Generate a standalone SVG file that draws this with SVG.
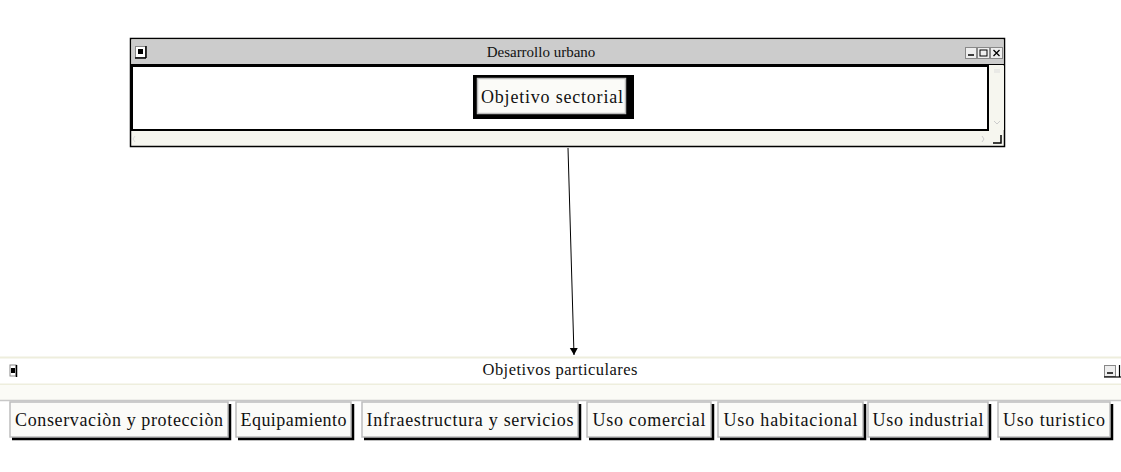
<svg xmlns="http://www.w3.org/2000/svg" width="1121" height="472" viewBox="0 0 1121 472">
<style>
text{font-family:"Liberation Serif","Tinos","Times New Roman","DejaVu Serif","Noto Serif",serif;fill:#111}
.t{font-size:15px;text-anchor:middle}
.b{font-size:18px;text-anchor:middle}
.face{fill:#fbfbf8;stroke:#bdbdbd;stroke-width:1.5}
.sh{fill:none;stroke:#000;stroke-width:3.5}
</style>
<defs>
<marker id="ah" markerWidth="8" markerHeight="10" refX="7" refY="5" orient="auto" markerUnits="userSpaceOnUse">
<path d="M0,1 L7,5 L0,9 Z" fill="#000"/>
</marker>
</defs>
<rect width="1121" height="472" fill="#fff"/>

<g id="desarrollo-urbano">
<rect x="130.5" y="38.5" width="874" height="108" fill="#f6f6ef" stroke="#000" stroke-width="1.5"/>
<rect x="131.5" y="39.5" width="872" height="25" fill="#cccccc"/>
<line x1="131" y1="64.5" x2="1004" y2="64.5" stroke="#000" stroke-width="1"/>
<rect x="135.5" y="46.5" width="10" height="11" fill="#fff" stroke="#888" stroke-width="1"/>
<rect x="138" y="49" width="5" height="5" fill="#000"/>
<line x1="146" y1="46" x2="146" y2="58" stroke="#000" stroke-width="1.5"/>
<line x1="135" y1="58" x2="146" y2="58" stroke="#000" stroke-width="1.5"/>
<text class="t" x="541" y="57">Desarrollo urbano</text>
<g stroke-width="1">
<rect x="965.5" y="47.5" width="11" height="11" fill="#eee" stroke="#888"/>
<line x1="968" y1="55" x2="974" y2="55" stroke="#000" stroke-width="1.5"/>
<rect x="977.5" y="47.5" width="12" height="11" fill="#eee" stroke="#888"/>
<rect x="980" y="50" width="7" height="6" fill="none" stroke="#000"/>
<rect x="990.5" y="47.5" width="12" height="11" fill="#eee" stroke="#888"/>
<path d="M993.5,50 L999.5,56 M999.5,50 L993.5,56" stroke="#000" stroke-width="1.3"/>
</g>
<rect x="132" y="66" width="856" height="64" fill="#fff" stroke="#000" stroke-width="2"/>
<rect x="990" y="66" width="14" height="64" fill="#f6f6ef"/>
<path d="M994,70 h6 M994,72 h6" stroke="#ddd" stroke-width="1"/>
<path d="M994,121 l3,3 l3,-3" stroke="#ccc" stroke-width="1" fill="none"/>
<path d="M135,136 l-2,3 l2,3" stroke="#ddd" stroke-width="1" fill="none"/>
<path d="M982,136 l2,3 l-2,3" stroke="#ccc" stroke-width="1" fill="none"/>
<path d="M993,143 h8 v-8" stroke="#000" stroke-width="1.5" fill="none"/>
<g id="objetivo-sectorial">
<rect x="473" y="75" width="161" height="44" fill="#000"/>
<rect x="477.5" y="78.5" width="148" height="35" class="face"/>
<text class="b" x="552" y="103" textLength="142">Objetivo sectorial</text>
</g>
</g>

<g id="connectors">
<line x1="568" y1="148" x2="574" y2="355" stroke="#000" stroke-width="1" marker-end="url(#ah)"/>
</g>

<g id="objetivos-particulares">
<rect x="0" y="357" width="1121" height="27" fill="#fff"/>
<line x1="0" y1="357.5" x2="1121" y2="357.5" stroke="#eeeedd" stroke-width="2"/>
<line x1="0" y1="384.5" x2="1121" y2="384.5" stroke="#eeeedd" stroke-width="2"/>
<rect x="0" y="385" width="1121" height="15" fill="#fbfbf6"/>
<line x1="0" y1="400.5" x2="1121" y2="400.5" stroke="#c8c8c8" stroke-width="1.5"/>
<rect x="10" y="365" width="6" height="11" fill="#fff" stroke="#888" stroke-width="1"/>
<rect x="11" y="368" width="4" height="5" fill="#000"/>
<line x1="16.5" y1="365" x2="16.5" y2="377" stroke="#000" stroke-width="1.5"/>
<text class="t" x="560" y="375" style="font-size:16.5px" textLength="155">Objetivos particulares</text>
<rect x="1104.5" y="365.5" width="11" height="11" fill="#eee" stroke="#888" stroke-width="1"/>
<line x1="1107" y1="373" x2="1113" y2="373" stroke="#000" stroke-width="1.5"/>
<line x1="1104" y1="377" x2="1121" y2="377" stroke="#000" stroke-width="1.2"/>
<line x1="1119.5" y1="365" x2="1119.5" y2="377" stroke="#000" stroke-width="1.2"/>
</g>

<g id="conservacion">
<polyline class="sh" points="12,438.5 229.5,438.5 229.5,404"/>
<rect x="10" y="402" width="218" height="35" class="face"/>
<text class="b" x="119" y="426" textLength="208">Conservaciòn y protecciòn</text>
</g>
<g id="equipamiento">
<polyline class="sh" points="238,438.5 352.5,438.5 352.5,404"/>
<rect x="236" y="402" width="115" height="35" class="face"/>
<text class="b" x="293.5" y="426" textLength="106">Equipamiento</text>
</g>
<g id="infraestructura">
<polyline class="sh" points="364,438.5 579.5,438.5 579.5,404"/>
<rect x="362" y="402" width="216" height="35" class="face"/>
<text class="b" x="470" y="426" textLength="207">Infraestructura y servicios</text>
</g>
<g id="uso-comercial">
<polyline class="sh" points="589,438.5 712.5,438.5 712.5,404"/>
<rect x="587" y="402" width="124" height="35" class="face"/>
<text class="b" x="649" y="426" textLength="113">Uso comercial</text>
</g>
<g id="uso-habitacional">
<polyline class="sh" points="720,438.5 864.5,438.5 864.5,404"/>
<rect x="718" y="402" width="145" height="35" class="face"/>
<text class="b" x="790.5" y="426" textLength="134">Uso habitacional</text>
</g>
<g id="uso-industrial">
<polyline class="sh" points="870,438.5 989.5,438.5 989.5,404"/>
<rect x="868" y="402" width="120" height="35" class="face"/>
<text class="b" x="928" y="426" textLength="111">Uso industrial</text>
</g>
<g id="uso-turistico">
<polyline class="sh" points="1000,438.5 1111.5,438.5 1111.5,404"/>
<rect x="998" y="402" width="112" height="35" class="face"/>
<text class="b" x="1054" y="426" textLength="102">Uso turistico</text>
</g>
</svg>
